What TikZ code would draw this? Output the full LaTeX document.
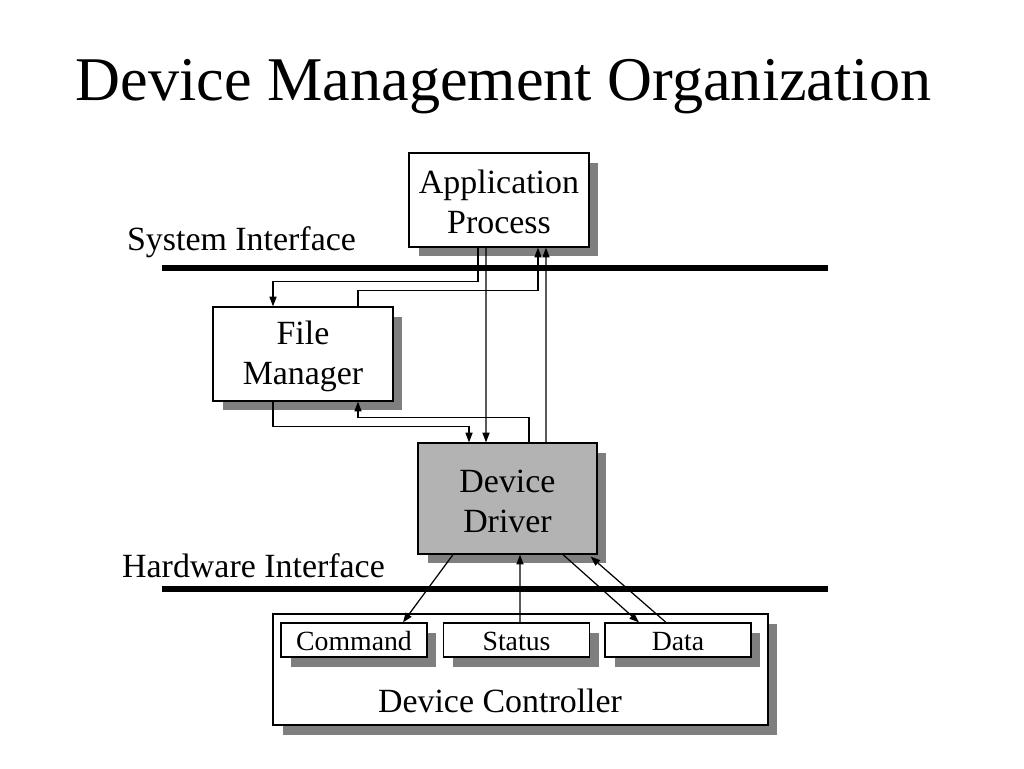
\documentclass[tikz,border=0pt]{standalone}
\usepackage{fontspec}
\setmainfont{Liberation Serif}
\usetikzlibrary{arrows.meta,shadows}
\definecolor{shadeGris}{HTML}{7F7F7F}
\definecolor{driverGris}{HTML}{B3B3B3}

\begin{document}
\begin{tikzpicture}[x=0.02cm, y=-0.02cm,
      box/.style={draw, line width=0.7pt, fill=white, inner sep=0pt, align=center,
                  font=\fontsize{19.3}{22.8}\selectfont,
                  drop shadow={shadow xshift=0.19cm, shadow yshift=-0.19cm,
                               fill=shadeGris, opacity=1}},
      reg/.style={box, font=\fontsize{15.8}{18}\selectfont, text height=13pt, text depth=1.6pt,
                  minimum width=2.92cm, minimum height=0.68cm},
      arr/.style={line width=0.7pt, -{Triangle[length=5.5pt,width=4pt]}},
      bus/.style={line width=3.6pt},
      lbl/.style={font=\fontsize{19.3}{22.8}\selectfont}]
    \useasboundingbox (0,0) rectangle (1024,768);
    \node[font=\fontsize{35.4}{42}\selectfont, anchor=base] (title) at (503.5,100) {Device Management Organization};

    % interfaces
    \node[lbl] (sysif) at (241.5,242) {System Interface};
    \node[lbl] (hwif) at (253.5,566) {Hardware Interface};
    \draw[bus] (162,268) -- (828,268);
    \draw[bus] (162,589) -- (828,589);

    % boxes
    \node[box, minimum width=3.6cm, minimum height=1.88cm] (app) at (499,200) {\strut Application\\Process};
    \node[box, minimum width=3.6cm, minimum height=1.88cm] (fm) at (303,354) {\strut File\\Manager};
    \node[box, fill=driverGris, minimum width=3.58cm, minimum height=2.22cm] (dd) at (507.5,498.5) {\strut Device\\Driver};
    \node[box, minimum width=9.9cm, minimum height=2.22cm] (ctrl) at (520.5,669.5) {};
    \node[lbl] (ctrltxt) at (500,701) {Device Controller};
    \node[reg] (cmd) at (354,640) {Command};
    \node[reg] (stat) at (516.5,640) {Status};
    \node[reg] (data) at (678,640) {Data};

    % application <-> file manager
    \draw[arr] ([xshift=-0.42cm]app.south) |- ([xshift=-0.6cm,yshift=0.5cm]fm.north) -- ([xshift=-0.6cm]fm.north);
    \draw[arr] ([xshift=1.1cm]fm.north) |- ([xshift=0.78cm,yshift=-0.86cm]app.south) -- ([xshift=0.78cm]app.south);
    % application <-> driver
    \draw[arr] ([xshift=-0.26cm]app.south) -- ([xshift=-0.43cm]dd.north);
    \draw[arr] ([xshift=0.77cm]dd.north) -- ([xshift=0.94cm]app.south);
    % file manager <-> driver
    \draw[arr] ([xshift=-0.6cm]fm.south) |- ([xshift=-0.77cm,yshift=0.32cm]dd.north) -- ([xshift=-0.77cm]dd.north);
    \draw[arr] ([xshift=0.43cm]dd.north) |- ([xshift=1.1cm,yshift=-0.32cm]fm.south) -- ([xshift=1.1cm]fm.south);
    % driver <-> controller
    \draw[arr] ([xshift=-1.09cm]dd.south) -- ([xshift=0.98cm]cmd.north);
    \draw[arr] ([xshift=0.07cm]stat.north) -- ([xshift=0.25cm]dd.south);
    \draw[arr] ([xshift=1.11cm]dd.south) -- ([xshift=-0.78cm]data.north);
    \draw[arr] ([xshift=-0.24cm]data.north) -- ([xshift=-0.14cm,yshift=-0.04cm]dd.south east);
  \end{tikzpicture}
\end{document}
